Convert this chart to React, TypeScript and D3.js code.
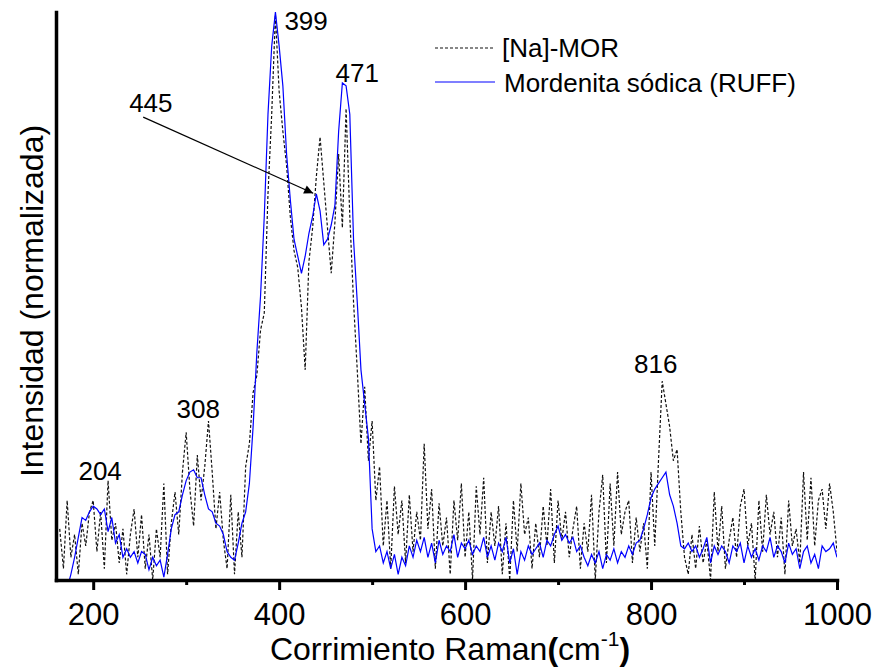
import React, { useEffect, useRef } from 'react';
import * as d3 from 'd3';

// Raman shift sampling (cm-1)
const WAVENUMBER_START = 164;
const WAVENUMBER_STEP = 4;

// [Na]-MOR (dashed), normalized intensity 0..100
const NA_MOR = [
  9, 2, 14, 4, 8, 1, 10, 6, 12, 14,
  5, 12, 2, 17.5, 7, 10, 3, 9, 1, 8,
  12.5, 4, 11.5, 2, 8, 0, 9, 4, 17, 1,
  10, 15.5, 8, 19, 26, 16, 9.5, 22, 14, 20,
  28, 19, 9, 15.5, 7, 2, 15, 1, 12, 4,
  20, 24, 33, 36, 44, 47, 68, 82, 99.5, 86,
  79, 73, 64, 58, 55, 48, 37, 56, 62, 71,
  78, 70, 62, 54, 63, 75, 62, 83, 64, 49,
  37, 24, 34, 21, 28, 14, 20, 6, 14, 2,
  16.5, 8, 14, 3, 15, 5, 12, 7, 24, 9,
  16, 2, 13.5, 6, 11, 1, 14, 7, 17, 4,
  12, 0, 16.5, 8, 18, 3, 12, 6, 13, 1,
  10, 0, 14, 5, 17, 8, 11, 2, 10, 4,
  13, 6, 16, 3, 14, 7, 12, 4, 9, 13,
  2, 10, 5, 15, 0, 12, 18.5, 3, 17, 6,
  19, 8, 12, 14, 3, 11, 5, 10, 2, 19,
  6, 21, 35, 31, 27, 21, 23, 12, 4, 1,
  8, 2, 9.5, 3, 7, 0, 15.5, 5, 13, 2,
  7, 11, 4, 13, 16, 6, 10, 0, 14, 5,
  15, 8, 12, 4, 11, 1, 14, 6, 9, 3,
  19, 7, 18, 6, 14, 16, 9, 17, 12, 5,
];

// Mordenita sódica (RUFF) (solid blue)
const RUFF = [
  -4, -3, -1.5, 1, 4, 7.5, 11, 10.5, 12, 13,
  12.5, 11.5, 12.5, 8.5, 11, 6.5, 8, 4, 5.5, 4,
  5, 3, 5, 4.5, 1.8, 4, 2.5, 3.5, 0.5, 4.5,
  9, 11.5, 12, 15, 17.5, 19, 19.4, 18, 18, 15,
  12.5, 12, 10, 9.5, 8, 5, 4, 3.5, 6.5, 10,
  12, 17, 27, 40, 50, 64, 82, 94, 100, 94,
  87, 75, 67, 60, 57, 54, 57, 61, 64, 68,
  65, 59, 60, 62.5, 66, 79, 87.5, 87, 82, 60,
  49, 37, 31, 25, 9, 5, 6, 3, 5, 2,
  4.5, 1, 4, 2.5, 6, 4, 7, 5, 7.5, 4,
  6.5, 3, 7, 4.5, 6, 5, 8, 4, 6.5, 5.5,
  7, 4.5, 6, 5, 7.5, 4, 6, 3.5, 6.5, 5,
  7.5, 3, 5.5, 1, 5, 3.5, 6, 4.5, 5.5, 6.5,
  4, 7, 6, 8, 9.5, 7, 8, 6.5, 7.5, 5,
  6, 4, 2.5, 4.5, 3, 5, 2, 4.5, 3.5, 5.5,
  3, 5, 4, 6, 4.5, 6.5, 7, 9, 11.5, 14.5,
  16, 17, 18, 19, 15, 13, 10, 6, 5.5, 6.5,
  5, 6, 4, 5.5, 7.5, 3, 6, 4.5, 6, 5,
  3, 6, 5, 6.5, 3, 6, 4, 5.5, 3.5, 6,
  5, 7.5, 4, 6, 5, 3, 6.5, 4.5, 5.5, 2,
  5, 6, 3, 4.5, 2, 6, 5, 5.5, 6.5, 4,
];

const X_DOMAIN = [160, 1000];
const Y_DOMAIN = [0, 100];
const X_MAJOR_TICKS = [200, 400, 600, 800, 1000];
const X_MINOR_TICKS = [300, 500, 700, 900];
const SERIES_NAMES = ['[Na]-MOR', 'Mordenita sódica (RUFF)'];

// Peak annotations: label, anchor wavenumber, anchor intensity
const PEAK_LABELS = ['204', '308', '399', '445', '471', '816'];
const PEAK_LABEL_X = [207.5, 313, 429, 262, 484, 805];
const PEAK_LABEL_Y = [17.6, 28.5, 96.8, 82.4, 87.7, 36.4];
// Arrow from the "445" label to the 445 shoulder
const ARROW_FROM = [253.8, 81.5];
const ARROW_TO = [436.6, 68.1];

const FONT = '"Liberation Sans", Arial, Helvetica, sans-serif';

export default function App() {
  const W = 877;
  const H = 668;
  const x = d3.scaleLinear().domain(X_DOMAIN).range([56, 837]);
  const y = d3.scaleLinear().domain(Y_DOMAIN).range([580, 12]);
  const wn = d3.range(NA_MOR.length).map((i) => WAVENUMBER_START + i * WAVENUMBER_STEP);
  const line = d3
    .line<number>()
    .x((_, i) => x(wn[i]))
    .y((d) => y(d));

  const xAxisRef = useRef<SVGGElement>(null);
  const xMinorRef = useRef<SVGGElement>(null);
  const yAxisRef = useRef<SVGGElement>(null);

  useEffect(() => {
    const gx = d3.select(xAxisRef.current as SVGGElement);
    gx.call(
      d3
        .axisBottom(x)
        .tickValues(X_MAJOR_TICKS)
        .tickSize(10)
        .tickSizeOuter(0)
        .tickPadding(13)
        .tickFormat(d3.format('d'))
    );
    gx.select('.domain').attr('stroke', '#000').attr('stroke-width', 3.5).attr('stroke-linecap', 'square');
    gx.selectAll('.tick line').attr('stroke', '#000').attr('stroke-width', 3);
    gx.selectAll('.tick text')
      .attr('font-size', 31)
      .attr('font-family', FONT)
      .attr('fill', '#000');

    const gm = d3.select(xMinorRef.current as SVGGElement);
    gm.call(
      d3
        .axisBottom(x)
        .tickValues(X_MINOR_TICKS)
        .tickSize(5)
        .tickSizeOuter(0)
        .tickFormat(() => '')
    );
    gm.select('.domain').remove();
    gm.selectAll('.tick line').attr('stroke', '#000').attr('stroke-width', 3);

    const gy = d3.select(yAxisRef.current as SVGGElement);
    gy.call(d3.axisLeft(y).tickValues([]).tickSizeOuter(0));
    gy.select('.domain').attr('stroke', '#000').attr('stroke-width', 3.5).attr('stroke-linecap', 'square');
  }, []);

  return (
    <svg
      width={W}
      height={H}
      style={{ position: 'absolute', left: 0, top: 0, background: '#fff' }}
      fontFamily={FONT}
    >
      <defs>
        <clipPath id="plotClip">
          <rect x={56} y={0} width={781} height={580} />
        </clipPath>
        <marker
          id="arrowHead"
          viewBox="0 0 10 10"
          refX={10}
          refY={5}
          markerWidth={16}
          markerHeight={9}
          markerUnits="userSpaceOnUse"
          orient="auto"
        >
          <path d="M0,0 L10,5 L0,10 z" fill="#000" />
        </marker>
      </defs>

      <g clipPath="url(#plotClip)">
        <path d={line(NA_MOR) || ''} fill="none" stroke="#111" strokeWidth={1.2} strokeDasharray="3,2" />
        <path d={line(RUFF) || ''} fill="none" stroke="#0000ff" strokeWidth={1.2} />
      </g>

      <g ref={xAxisRef} transform={`translate(0,${y(0)})`} />
      <g ref={xMinorRef} transform={`translate(0,${y(0)})`} />
      <g ref={yAxisRef} transform={`translate(${x(X_DOMAIN[0])},0)`} />

      {PEAK_LABELS.map((t, i) => (
        <text
          key={t}
          x={x(PEAK_LABEL_X[i])}
          y={y(PEAK_LABEL_Y[i])}
          textAnchor="middle"
          fontSize={26}
          fill="#000"
        >
          {t}
        </text>
      ))}

      <line
        x1={x(ARROW_FROM[0])}
        y1={y(ARROW_FROM[1])}
        x2={x(ARROW_TO[0])}
        y2={y(ARROW_TO[1])}
        stroke="#000"
        strokeWidth={1.2}
        markerEnd="url(#arrowHead)"
      />

      {/* Legend */}
      <line x1={435} x2={495} y1={48} y2={48} stroke="#111" strokeWidth={1.2} strokeDasharray="3,2" />
      <text x={502} y={57} fontSize={26} fill="#000">
        {SERIES_NAMES[0]}
      </text>
      <line x1={435} x2={495} y1={82} y2={82} stroke="#0000ff" strokeWidth={1.2} />
      <text x={504} y={92} fontSize={26} fill="#000">
        {SERIES_NAMES[1]}
      </text>

      {/* Axis titles */}
      <text x={450} y={660} textAnchor="middle" fontSize={32} fill="#000">
        Corrimiento Raman<tspan fontWeight="bold">(</tspan>cm
        <tspan dy={-14} fontSize={21}>-1</tspan>
        <tspan dy={14} fontWeight="bold">)</tspan>
      </text>
      <text
        transform="translate(43,301) rotate(-90)"
        textAnchor="middle"
        fontSize={32}
        fill="#000"
      >
        Intensidad (normalizada)
      </text>
    </svg>
  );
}
